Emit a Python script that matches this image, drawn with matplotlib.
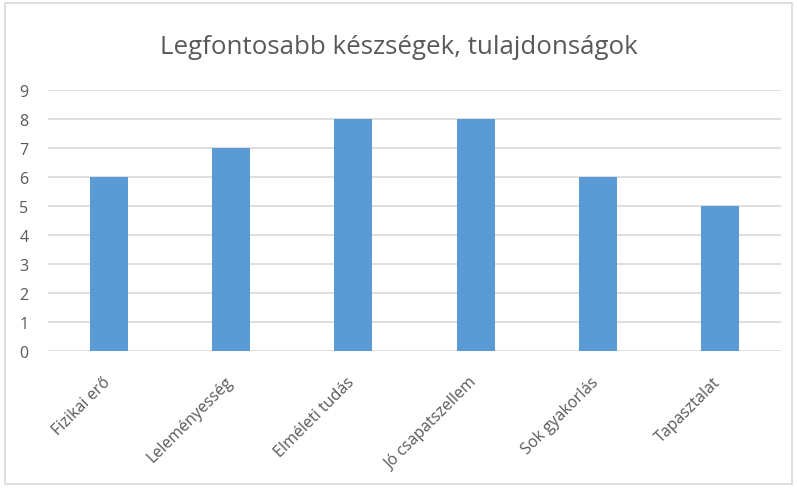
import matplotlib
matplotlib.use('Agg')
import matplotlib.pyplot as plt
import matplotlib.transforms as mtransforms
from matplotlib.patches import Rectangle

# chart data
categories = ['Fizikai erő', 'Leleményesség', 'Elméleti tudás',
              'Jó csapatszellem', 'Sok gyakorlás', 'Tapasztalat']
values = [6, 7, 8, 8, 6, 5]
title = 'Legfontosabb készségek, tulajdonságok'

bar_color = '#5B9BD5'
grid_color = '#D9D9D9'
text_color = '#595959'

plt.rcParams['font.family'] = ['Open Sans', 'DejaVu Sans']

W, H = 797, 489
fig = plt.figure(figsize=(W / 100, H / 100), dpi=100)
ax = fig.add_axes([48 / W, 1 - 352.3 / H, (781 - 48) / W, (352.3 - 90.7) / H])

x = range(len(categories))
ax.bar(x, values, width=0.31, color=bar_color, zorder=3)

ax.set_xlim(-0.5, len(categories) - 0.5)
ax.set_ylim(0, 9)
ax.set_yticks(range(0, 10))
ax.yaxis.grid(True, color=grid_color, linewidth=1.2, zorder=0)
ax.set_xticks(list(x))
ax.set_xticklabels(categories, rotation=45, ha='right', va='top',
                   rotation_mode='anchor', color=text_color, fontsize=11.5)
ax.tick_params(axis='both', length=0)
ax.tick_params(axis='y', colors=text_color, labelsize=11.5, pad=14)
ax.tick_params(axis='x', pad=16)
# nudge the slanted labels a little to the left, as in the original
shift = mtransforms.ScaledTranslation(-7 / 100, 0, fig.dpi_scale_trans)
for lbl in ax.get_xticklabels():
    lbl.set_transform(lbl.get_transform() + shift)
for s in ax.spines.values():
    s.set_visible(False)

fig.text(0.5, 1 - 47 / H, title, ha='center', va='center',
         fontsize=18.6, color=text_color)

# light chart frame
fig.patches.append(Rectangle((5 / W, 4 / H), (W - 10) / W, (H - 8) / H,
                             transform=fig.transFigure, fill=False,
                             edgecolor='#D9D9D9', linewidth=1.2))

fig.savefig('out.png', dpi=100)
